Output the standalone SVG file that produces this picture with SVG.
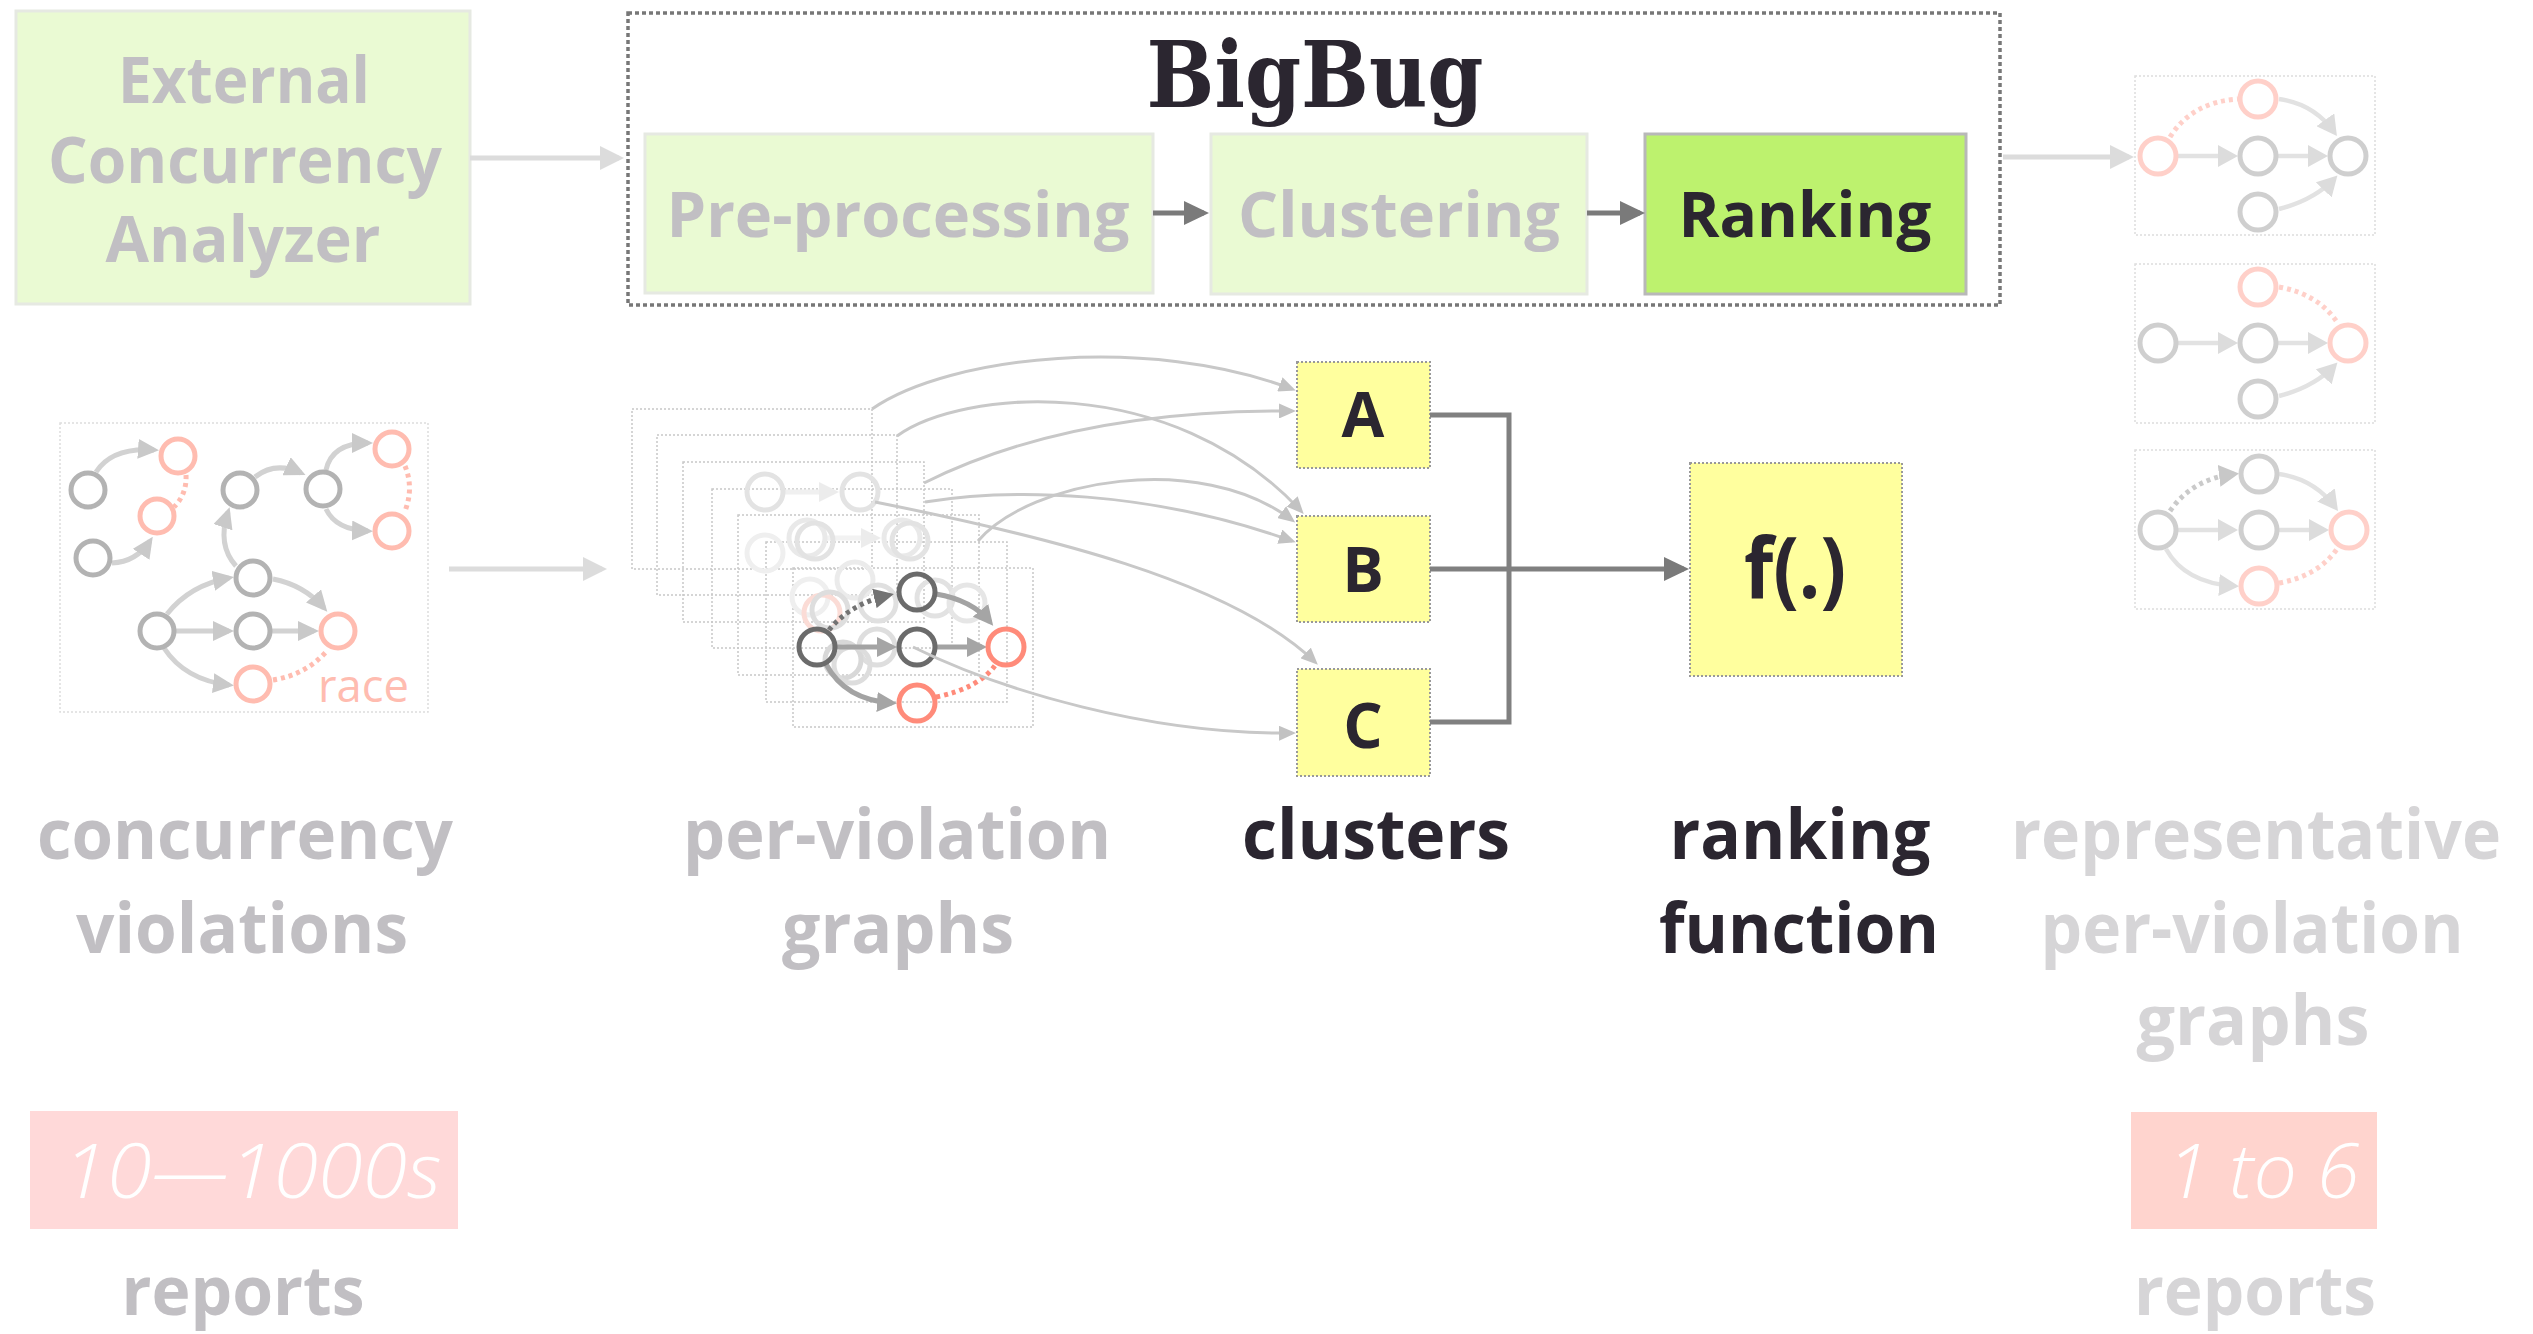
<svg xmlns="http://www.w3.org/2000/svg" width="2533" height="1334" viewBox="0 0 2533 1334">
  <style>
    .sans { font-family: "Open Sans", "Noto Sans", "DejaVu Sans", sans-serif; }
    .semi { font-weight: 700; }
    .bold { font-weight: 700; }
    .faded { fill: #c1bfc3; }
    .pale { fill: #d6d5d7; }
    .dark { fill: #2b2630; }
    .stage-soft { fill: #eafad3; stroke: #e6e9e2; stroke-width: 3; }
    .cluster { fill: #ffff9e; stroke: #999999; stroke-width: 2; stroke-dasharray: 2 2; }
    .frame { fill: none; stroke: #c8c8c8; stroke-width: 1.5; stroke-dasharray: 2 2; }
    .frame-pale { fill: none; stroke: #dddddd; stroke-width: 1.5; stroke-dasharray: 2 2; }
    .flow { fill: none; stroke: #dcdcdc; stroke-width: 5; }
    .heavy { fill: none; stroke: #7a7a7a; stroke-width: 5; }
    .toclu { fill: none; stroke: #c8c8c8; stroke-width: 3; }
    /* left violation graph */
    .lg { fill: none; stroke: #b3b3b3; stroke-width: 5; }
    .lr { fill: none; stroke: #ffbcb0; stroke-width: 5; }
    .le { fill: none; stroke: #d2d2d2; stroke-width: 5; }
    .ld { fill: none; stroke: #ffbcb0; stroke-width: 5; stroke-dasharray: 4 4; }
    /* right representative graphs */
    .rg { fill: none; stroke: #cfcfcf; stroke-width: 5; }
    .rr { fill: none; stroke: #ffd0c9; stroke-width: 5; }
    .re { fill: none; stroke: #e2e2e2; stroke-width: 4.5; }
    .rd { fill: none; stroke: #ffd0c9; stroke-width: 5; stroke-dasharray: 4 4; }
    .rdg { fill: none; stroke: #cacaca; stroke-width: 5; stroke-dasharray: 4 4; }
    /* front per-violation graph */
    .fg { fill: none; stroke: #6b6b6b; stroke-width: 5; }
    .fr { fill: none; stroke: #ff8b7a; stroke-width: 5; }
    .fe { fill: none; stroke: #a3a3a3; stroke-width: 5; }
    .fd { fill: none; stroke: #737373; stroke-width: 5; stroke-dasharray: 4 4; }
    .frd { fill: none; stroke: #ff8b7a; stroke-width: 5; stroke-dasharray: 4 4; }
    .ghost { fill: none; stroke-width: 5; }
  </style>
  <defs>
    <marker id="ah-flow" markerUnits="userSpaceOnUse" markerWidth="24" markerHeight="24" refX="19" refY="12" orient="auto">
      <path d="M0,0 L24,12 L0,24 z" fill="#dcdcdc"/>
    </marker>
    <marker id="ah-heavy" markerUnits="userSpaceOnUse" markerWidth="25" markerHeight="24" refX="20" refY="12" orient="auto">
      <path d="M0,0 L25,12 L0,24 z" fill="#7a7a7a"/>
    </marker>
    <marker id="ah-clu" markerUnits="userSpaceOnUse" markerWidth="17" markerHeight="15" refX="13" refY="7.5" orient="auto">
      <path d="M0,0 L17,7.5 L0,15 z" fill="#c2c2c2"/>
    </marker>
    <marker id="ah-left" markerUnits="userSpaceOnUse" markerWidth="21" markerHeight="20" refX="16" refY="10" orient="auto">
      <path d="M0,0 L21,10 L0,20 z" fill="#c9c9c9"/>
    </marker>
    <marker id="ah-right" markerUnits="userSpaceOnUse" markerWidth="20" markerHeight="22" refX="15" refY="11" orient="auto">
      <path d="M0,0 L20,11 L0,22 z" fill="#dcdcdc"/>
    </marker>
    <marker id="ah-right-dot" markerUnits="userSpaceOnUse" markerWidth="20" markerHeight="22" refX="15" refY="11" orient="auto">
      <path d="M0,0 L20,11 L0,22 z" fill="#c8c8c8"/>
    </marker>
    <marker id="ah-front" markerUnits="userSpaceOnUse" markerWidth="20" markerHeight="20" refX="15" refY="10" orient="auto">
      <path d="M0,0 L20,10 L0,20 z" fill="#a5a5a5"/>
    </marker>
    <marker id="ah-front-dot" markerUnits="userSpaceOnUse" markerWidth="20" markerHeight="20" refX="15" refY="10" orient="auto">
      <path d="M0,0 L20,10 L0,20 z" fill="#737373"/>
    </marker>
    <marker id="ah-ghost" markerUnits="userSpaceOnUse" markerWidth="20" markerHeight="20" refX="15" refY="10" orient="auto">
      <path d="M0,0 L20,10 L0,20 z" fill="#ececec"/>
    </marker>
  </defs>

  <rect width="2533" height="1334" fill="#ffffff"/>

  <!-- external analyzer -->
  <g id="external-analyzer">
    <rect class="stage-soft" x="16" y="11" width="454" height="293"/>
    <text class="sans semi faded" font-size="64" text-anchor="middle" x="244" y="103" textLength="252" lengthAdjust="spacingAndGlyphs">External</text>
    <text class="sans semi faded" font-size="64" text-anchor="middle" x="245" y="183" textLength="394" lengthAdjust="spacingAndGlyphs">Concurrency</text>
    <text class="sans semi faded" font-size="64" text-anchor="middle" x="243" y="262" textLength="275" lengthAdjust="spacingAndGlyphs">Analyzer</text>
  </g>

  <!-- BigBug pipeline frame -->
  <g id="bigbug">
    <rect x="628" y="13" width="1372" height="292" fill="none" stroke="#777777" stroke-width="3.5" stroke-dasharray="4 3"/>
    <text x="1315" y="107" font-family="'DejaVu Serif', 'Liberation Serif', serif" font-weight="700" font-size="92" text-anchor="middle" textLength="337" lengthAdjust="spacingAndGlyphs" class="dark">BigBug</text>
  </g>

  <g id="stage-preprocessing">
    <rect class="stage-soft" x="645" y="134" width="508" height="159"/>
    <text class="sans semi faded" font-size="62" text-anchor="middle" x="898" y="237" textLength="463" lengthAdjust="spacingAndGlyphs">Pre-processing</text>
  </g>
  <g id="stage-clustering">
    <rect class="stage-soft" x="1211" y="134" width="376" height="160"/>
    <text class="sans semi faded" font-size="62" text-anchor="middle" x="1399" y="237" textLength="322" lengthAdjust="spacingAndGlyphs">Clustering</text>
  </g>
  <g id="stage-ranking">
    <rect x="1645" y="134" width="321" height="160" fill="#bdf26e" stroke="#b8b8b8" stroke-width="3"/>
    <text class="sans semi dark" font-size="62" text-anchor="middle" x="1805" y="237" textLength="253" lengthAdjust="spacingAndGlyphs">Ranking</text>
  </g>

  <!-- concurrency violations (input graph) -->
  <g id="violations-graph">
    <rect class="frame-pale" x="60" y="423" width="368" height="289" stroke="#d5d5d5"/>
    <g>
      <path class="le" d="M96 472 Q112 447 154 450" marker-end="url(#ah-left)"/>
      <path class="ld" d="M186 475 Q187 494 174 507"/>
      <path class="le" d="M112 563 Q136 562 150 541" marker-end="url(#ah-left)"/>
      <path class="le" d="M236 566 Q217 545 228 512" marker-end="url(#ah-left)"/>
      <path class="le" d="M255 477 Q275 461 301 473" marker-end="url(#ah-left)"/>
      <path class="le" d="M326 470 Q332 443 368 443" marker-end="url(#ah-left)"/>
      <path class="le" d="M326 509 Q336 530 368 531" marker-end="url(#ah-left)"/>
      <path class="ld" d="M405 466 Q414 488 405 511"/>
      <path class="le" d="M167 614 Q190 585 229 578" marker-end="url(#ah-left)"/>
      <path class="le" d="M273 579 Q304 585 324 608" marker-end="url(#ah-left)"/>
      <path class="le" d="M176 631 L229 631" marker-end="url(#ah-left)"/>
      <path class="le" d="M272 631 L314 631" marker-end="url(#ah-left)"/>
      <path class="le" d="M164 648 Q185 680 229 685" marker-end="url(#ah-left)"/>
      <path class="ld" d="M273 680 Q305 675 326 652"/>
    </g>
    <circle class="lg" cx="88" cy="490" r="17"/>
    <circle class="lg" cx="93" cy="558" r="17"/>
    <circle class="lg" cx="240" cy="490" r="17"/>
    <circle class="lg" cx="323" cy="489" r="17"/>
    <circle class="lg" cx="253" cy="578" r="17"/>
    <circle class="lg" cx="157" cy="631" r="17"/>
    <circle class="lg" cx="253" cy="631" r="17"/>
    <circle class="lr" cx="178" cy="456" r="17"/>
    <circle class="lr" cx="157" cy="516" r="17"/>
    <circle class="lr" cx="392" cy="449" r="17"/>
    <circle class="lr" cx="392" cy="531" r="17"/>
    <circle class="lr" cx="338" cy="631" r="17"/>
    <circle class="lr" cx="253" cy="684" r="17"/>
    <text class="sans" font-size="46" fill="#ffbcb0" x="318" y="702" textLength="91" lengthAdjust="spacingAndGlyphs">race</text>
  </g>

  <!-- stack of per-violation graphs -->
  <g id="per-violation-graphs">
    <rect class="frame" x="632" y="409" width="240" height="160"/>
    <rect class="frame" x="657" y="435" width="240" height="160"/>
    <rect class="frame" x="683" y="462" width="241" height="160"/>
    <rect class="frame" x="712" y="489" width="240" height="159"/>
    <rect class="frame" x="738" y="515" width="241" height="160"/>
    <rect class="frame" x="766" y="542" width="241" height="160"/>
    <rect class="frame" x="793" y="568" width="240" height="159"/>
    <!-- graphs further back in the stack -->
    <g>
      <path class="ghost" stroke="#f0f0f0" d="M785 492 L834 492" marker-end="url(#ah-ghost)"/>
      <circle class="ghost" stroke="#e3e3e3" cx="765" cy="492" r="18"/>
      <circle class="ghost" stroke="#e3e3e3" cx="860" cy="492" r="18"/>
      <path class="ghost" stroke="#f2f2f2" d="M827 538 L876 538" marker-end="url(#ah-ghost)"/>
      <circle class="ghost" stroke="#efefef" cx="765" cy="553" r="18"/>
      <circle class="ghost" stroke="#e9e9e9" cx="807" cy="538" r="18"/>
      <circle class="ghost" stroke="#e9e9e9" cx="902" cy="538" r="18"/>
      <circle class="ghost" stroke="#e3e3e3" cx="815" cy="541" r="18"/>
      <circle class="ghost" stroke="#e3e3e3" cx="910" cy="541" r="18"/>
      <circle class="ghost" stroke="#efefef" cx="810" cy="597" r="18"/>
      <circle class="ghost" stroke="#ebebeb" cx="855" cy="580" r="18"/>
      <circle class="ghost" stroke="#fbdcd6" cx="822" cy="613" r="18"/>
      <circle class="ghost" stroke="#e0e0e0" cx="878" cy="603" r="18"/>
      <circle class="ghost" stroke="#e2e2e2" cx="935" cy="598" r="18"/>
      <circle class="ghost" stroke="#e6e6e6" cx="967" cy="603" r="18"/>
      <circle class="ghost" stroke="#dedede" cx="830" cy="610" r="18"/>
      <circle class="ghost" stroke="#dedede" cx="877" cy="647" r="18"/>
      <circle class="ghost" stroke="#d8d8d8" cx="843" cy="660" r="18"/>
      <circle class="ghost" stroke="#dddddd" cx="852" cy="665" r="18"/>
    </g>
    <!-- front graph -->
    <g>
      <path class="fd" d="M829 630 Q850 604 889 595" marker-end="url(#ah-front-dot)"/>
      <path class="fe" d="M836 647 L892 647" marker-end="url(#ah-front)"/>
      <path class="fe" d="M936 647 L982 647" marker-end="url(#ah-front)"/>
      <path class="fe" d="M936 594 Q972 600 990 622" marker-end="url(#ah-front)"/>
      <path class="fe" d="M826 664 Q845 700 892 703" marker-end="url(#ah-front)"/>
      <path class="frd" d="M936 697 Q980 688 996 664"/>
      <circle class="fg" cx="817" cy="647" r="18"/>
      <circle class="fg" cx="917" cy="592" r="18"/>
      <circle class="fg" cx="917" cy="647" r="18"/>
      <circle class="fr" cx="1006" cy="647" r="18"/>
      <circle class="fr" cx="917" cy="703" r="18"/>
    </g>
  </g>

  <!-- clusters -->
  <g id="cluster-a">
    <rect class="cluster" x="1297" y="362" width="133" height="106"/>
    <text class="sans bold dark" font-size="62" text-anchor="middle" x="1363" y="437">A</text>
  </g>
  <g id="cluster-b">
    <rect class="cluster" x="1297" y="516" width="133" height="106"/>
    <text class="sans bold dark" font-size="62" text-anchor="middle" x="1363" y="592">B</text>
  </g>
  <g id="cluster-c">
    <rect class="cluster" x="1297" y="669" width="133" height="107"/>
    <text class="sans bold dark" font-size="62" text-anchor="middle" x="1363" y="748">C</text>
  </g>

  <!-- ranking function -->
  <g id="ranking-function">
    <rect class="cluster" x="1690" y="463" width="212" height="213"/>
    <text class="sans bold dark" font-size="84" text-anchor="middle" x="1795" y="598" textLength="102" lengthAdjust="spacingAndGlyphs">f(.)</text>
  </g>

  <!-- representative per-violation graphs -->
  <g id="representative-graphs">
    <rect class="frame-pale" x="2135" y="76" width="240" height="159"/>
    <rect class="frame-pale" x="2135" y="264" width="240" height="159"/>
    <rect class="frame-pale" x="2135" y="450" width="240" height="159"/>
    <!-- first -->
    <path class="rd" d="M2170 137 Q2192 102 2238 99"/>
    <path class="re" d="M2178 156 L2233 156" marker-end="url(#ah-right)"/>
    <path class="re" d="M2278 156 L2323 156" marker-end="url(#ah-right)"/>
    <path class="re" d="M2279 99 Q2314 104 2334 132" marker-end="url(#ah-right)"/>
    <path class="re" d="M2279 209 Q2314 200 2334 179" marker-end="url(#ah-right)"/>
    <circle class="rr" cx="2158" cy="156" r="18"/>
    <circle class="rr" cx="2258" cy="99" r="18"/>
    <circle class="rg" cx="2258" cy="156" r="18"/>
    <circle class="rg" cx="2258" cy="212" r="18"/>
    <circle class="rg" cx="2348" cy="156" r="18"/>
    <!-- second -->
    <path class="rd" d="M2279 287 Q2318 294 2337 322"/>
    <path class="re" d="M2178 343 L2233 343" marker-end="url(#ah-right)"/>
    <path class="re" d="M2278 343 L2323 343" marker-end="url(#ah-right)"/>
    <path class="re" d="M2279 396 Q2314 387 2334 366" marker-end="url(#ah-right)"/>
    <circle class="rg" cx="2158" cy="343" r="18"/>
    <circle class="rr" cx="2258" cy="287" r="18"/>
    <circle class="rg" cx="2258" cy="343" r="18"/>
    <circle class="rg" cx="2258" cy="399" r="18"/>
    <circle class="rr" cx="2348" cy="343" r="18"/>
    <!-- third -->
    <path class="rdg" d="M2170 511 Q2192 479 2234 474" marker-end="url(#ah-right-dot)"/>
    <path class="re" d="M2178 530 L2233 530" marker-end="url(#ah-right)"/>
    <path class="re" d="M2279 530 L2324 530" marker-end="url(#ah-right)"/>
    <path class="re" d="M2279 474 Q2314 479 2335 507" marker-end="url(#ah-right)"/>
    <path class="re" d="M2166 549 Q2185 583 2234 586" marker-end="url(#ah-right)"/>
    <path class="rd" d="M2279 583 Q2318 576 2337 549"/>
    <circle class="rg" cx="2158" cy="530" r="18"/>
    <circle class="rg" cx="2259" cy="474" r="18"/>
    <circle class="rg" cx="2259" cy="530" r="18"/>
    <circle class="rr" cx="2259" cy="586" r="18"/>
    <circle class="rr" cx="2349" cy="530" r="18"/>
  </g>

  <!-- connectors -->
  <g id="connectors">
    <path class="flow" d="M470 158 L619 158" marker-end="url(#ah-flow)"/>
    <path class="flow" d="M2003 157 L2129 157" marker-end="url(#ah-flow)"/>
    <path class="flow" d="M449 569 L602 569" marker-end="url(#ah-flow)"/>
    <path class="heavy" d="M1153 213 L1204 213" marker-end="url(#ah-heavy)"/>
    <path class="heavy" d="M1587 213 L1640 213" marker-end="url(#ah-heavy)"/>
    <!-- graphs to clusters -->
    <path class="toclu" d="M872 409 C950 355 1150 335 1292 389" marker-end="url(#ah-clu)"/>
    <path class="toclu" d="M897 436 C960 390 1170 370 1301 511" marker-end="url(#ah-clu)"/>
    <path class="toclu" d="M924 483 C1010 440 1130 410 1292 411" marker-end="url(#ah-clu)"/>
    <path class="toclu" d="M925 502 C1010 488 1150 490 1292 541" marker-end="url(#ah-clu)"/>
    <path class="toclu" d="M875 502 C1040 535 1230 580 1315 662" marker-end="url(#ah-clu)"/>
    <path class="toclu" d="M978 541 C1030 480 1200 450 1292 520" marker-end="url(#ah-clu)"/>
    <path class="toclu" d="M913 647 C1000 690 1150 735 1292 733" marker-end="url(#ah-clu)"/>
    <!-- clusters to ranking function -->
    <path fill="none" stroke="#808080" stroke-width="5" d="M1430 415 L1509 415 L1509 722 L1430 722"/>
    <path fill="none" stroke="#808080" stroke-width="5" d="M1430 569 L1684 569" marker-end="url(#ah-heavy)"/>
  </g>

  <!-- captions -->
  <g id="captions">
    <text class="sans semi faded" font-size="69" text-anchor="middle" x="245" y="859" textLength="416" lengthAdjust="spacingAndGlyphs">concurrency</text>
    <text class="sans semi faded" font-size="69" text-anchor="middle" x="242" y="953" textLength="332" lengthAdjust="spacingAndGlyphs">violations</text>
    <text class="sans semi faded" font-size="69" text-anchor="middle" x="897" y="859" textLength="428" lengthAdjust="spacingAndGlyphs">per-violation</text>
    <text class="sans semi faded" font-size="69" text-anchor="middle" x="898" y="953" textLength="232" lengthAdjust="spacingAndGlyphs">graphs</text>
    <text class="sans semi dark" font-size="69" text-anchor="middle" x="1376" y="859" textLength="268" lengthAdjust="spacingAndGlyphs">clusters</text>
    <text class="sans semi dark" font-size="69" text-anchor="middle" x="1800" y="859" textLength="261" lengthAdjust="spacingAndGlyphs">ranking</text>
    <text class="sans semi dark" font-size="69" text-anchor="middle" x="1799" y="953" textLength="280" lengthAdjust="spacingAndGlyphs">function</text>
    <text class="sans semi pale" font-size="69" text-anchor="middle" x="2256" y="859" textLength="490" lengthAdjust="spacingAndGlyphs">representative</text>
    <text class="sans semi pale" font-size="69" text-anchor="middle" x="2252" y="953" textLength="423" lengthAdjust="spacingAndGlyphs">per-violation</text>
    <text class="sans semi pale" font-size="69" text-anchor="middle" x="2253" y="1045" textLength="233" lengthAdjust="spacingAndGlyphs">graphs</text>
  </g>

  <g id="count-input">
    <rect x="30" y="1111" width="428" height="118" fill="#ffd9d9"/>
    <text class="sans" font-size="76" font-style="italic" font-weight="300" fill="#ffffff" text-anchor="middle" x="252" y="1198" textLength="379" lengthAdjust="spacingAndGlyphs">10—1000s</text>
    <text class="sans semi faded" font-size="68" text-anchor="middle" x="243" y="1315" textLength="243" lengthAdjust="spacingAndGlyphs">reports</text>
  </g>
  <g id="count-output">
    <rect x="2131" y="1112" width="246" height="117" fill="#ffd4ce"/>
    <text class="sans" font-size="76" font-style="italic" font-weight="300" fill="#ffffff" text-anchor="middle" x="2263" y="1198" textLength="193" lengthAdjust="spacingAndGlyphs">1 to 6</text>
    <text class="sans semi pale" font-size="68" text-anchor="middle" x="2255" y="1315" textLength="242" lengthAdjust="spacingAndGlyphs">reports</text>
  </g>
</svg>
